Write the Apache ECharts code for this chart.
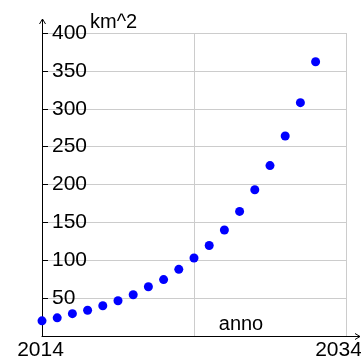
<!DOCTYPE html>
<html><head><meta charset="utf-8">
<script src="https://cdn.jsdelivr.net/npm/echarts@6/dist/echarts.min.js"></script>
<style>html,body{margin:0;padding:0;background:#fff}#c{width:361px;height:360px}</style>
</head><body><div id="c"></div>
<script>
const years = [2014,2015,2016,2017,2018,2019,2020,2021,2022,2023,2024,2025,2026,2027,2028,2029,2030,2031,2032];
const area = [20,24,29.5,34,40,46.5,54.5,65,74.5,88,103,119.5,140,164.5,193,225,264,308,362];
const xShownLabels = [2014, 2034];
const yAxisName = 'km^2';
const xAxisName = 'anno';

(function () {
const FONT = '"Liberation Sans", Arial, sans-serif';
const chart = echarts.init(document.getElementById('c'), null, {renderer: 'canvas'});
chart.setOption({
  animation: false,
  backgroundColor: '#fff',
  grid: {left: 42, right: 15, top: 33, bottom: 24, containLabel: false, outerBoundsMode: 'none'},
  xAxis: {
    type: 'value', min: 2014, max: 2034, interval: 10,
    axisLine: {show: true, lineStyle: {color: '#000', width: 1}},
    axisTick: {show: false},
    splitLine: {show: true, lineStyle: {color: '#cccccc', width: 1}},
    axisLabel: {
      show: true, margin: 4, color: '#000', fontFamily: FONT, fontSize: 21,
      showMinLabel: true, showMaxLabel: true, hideOverlap: false,
      formatter: v => xShownLabels.includes(v) ? (v === 2034 ? '{mx|' + v + '}' : '{mn|' + v + '}') : '',
      rich: {
        mx: {fontFamily: FONT, fontSize: 21, color: '#000', padding: [0, 15, 0, 0]},
        mn: {fontFamily: FONT, fontSize: 21, color: '#000', padding: [0, 3, 0, 0]}
      }
    },
    name: xAxisName, nameLocation: 'middle', nameGap: -2, nameMoveOverlap: false,
    nameTextStyle: {fontFamily: FONT, fontSize: 20, color: '#000', verticalAlign: 'bottom', padding: [0, 0, 0, 94]}
  },
  yAxis: {
    type: 'value', min: 0, max: 400, interval: 50,
    axisLine: {show: true, lineStyle: {color: '#000', width: 1}},
    axisTick: {show: true, inside: true, length: 6, lineStyle: {color: '#000', width: 1}},
    splitLine: {show: true, lineStyle: {color: '#cccccc', width: 1}},
    axisLabel: {
      show: true, inside: true, margin: 10, color: '#000', fontFamily: FONT, fontSize: 21,
      showMinLabel: false, formatter: v => v === 0 ? '' : String(v)
    },
    name: yAxisName, nameLocation: 'end', nameGap: 11, nameMoveOverlap: false,
    nameTextStyle: {fontFamily: FONT, fontSize: 20, color: '#000', align: 'left', verticalAlign: 'middle', padding: [0, 0, 0, 48]}
  },
  series: [{
    type: 'scatter',
    data: years.map((y, i) => [y, area[i]]),
    symbol: 'circle', symbolSize: 9,
    itemStyle: {color: '#0000ff', opacity: 1},
    z: 5
  }]
});

const o = chart.convertToPixel({gridIndex: 0}, [2014, 0]);
const tp = chart.convertToPixel({gridIndex: 0}, [2014, 400]);
const rt = chart.convertToPixel({gridIndex: 0}, [2034, 0]);
const ax = Math.round(o[0]) + 0.5, ay = Math.round(o[1]) + 0.5;
const tipY = tp[1] - 14, tipX = rt[0] + 14;
chart.setOption({
  graphic: [
    {type: 'polyline', shape: {points: [[ax, tp[1]], [ax, tipY]]}, style: {stroke: '#000', lineWidth: 1, fill: null}, z: 10},
    {type: 'polyline', shape: {points: [[ax - 3, tipY + 5], [ax, tipY], [ax + 3, tipY + 5]]}, style: {stroke: '#000', lineWidth: 1, fill: null}, z: 10},
    {type: 'polyline', shape: {points: [[rt[0], ay], [tipX, ay]]}, style: {stroke: '#000', lineWidth: 1, fill: null}, z: 10},
    {type: 'polyline', shape: {points: [[tipX - 5, ay - 3], [tipX, ay], [tipX - 5, ay + 3]]}, style: {stroke: '#000', lineWidth: 1, fill: null}, z: 10}
  ]
});
})();
</script></body></html>
